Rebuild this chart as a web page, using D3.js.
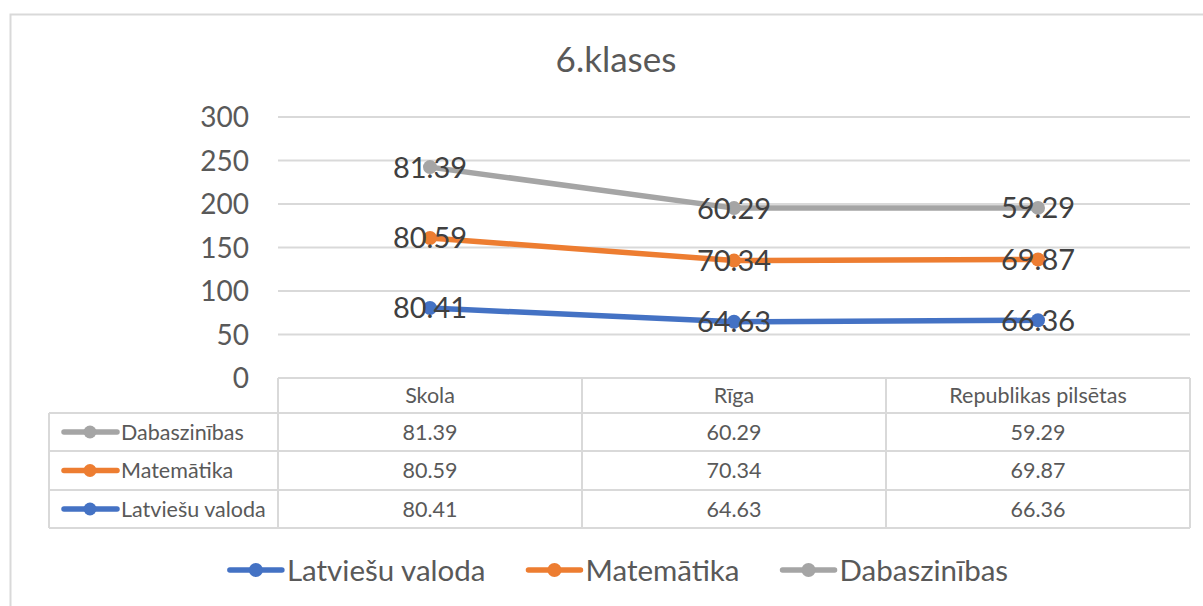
<!DOCTYPE html>
<html>
<head>
<meta charset="utf-8">
<script src="https://cdn.jsdelivr.net/npm/d3@7"></script>
<style>
  body { margin: 0; background: #fff; }
  text { font-family: Lato, "Open Sans", sans-serif; }
</style>
</head>
<body>
<div id="root"></div>
<script>
// categories and series (values as shown in the data table)
let categories = ["Skola", "Rīga", "Republikas pilsētas"];
let seriesNames = ["Latviešu valoda", "Matemātika", "Dabaszinības"];
let latviesu = [80.41, 64.63, 66.36];
let matematika = [80.59, 70.34, 69.87];
let dabaszinibas = [81.39, 60.29, 59.29];
let yTicks = [0, 50, 100, 150, 200, 250, 300];
let colors = ["#4472C4", "#ED7D31", "#A5A5A5"];

let W = 1203, H = 606;
let plot = { left: 278, right: 1190, top: 117, bottom: 378 };

let svg = d3.select("#root").append("svg")
  .attr("width", W).attr("height", H);

// chart border (runs off the right and bottom edge)
svg.append("rect")
  .attr("x", 10.5).attr("y", 14.5)
  .attr("width", W + 20).attr("height", H + 20)
  .attr("fill", "none").attr("stroke", "#d9d9d9").attr("stroke-width", 2);

// title
svg.append("text")
  .attr("x", 616).attr("y", 72)
  .attr("text-anchor", "middle")
  .attr("font-size", 35).attr("fill", "#595959")
  .text("6.klases");

// build rows for stacking
let rows = categories.map((c, i) => ({
  cat: c,
  "Latviešu valoda": latviesu[i],
  "Matemātika": matematika[i],
  "Dabaszinības": dabaszinibas[i]
}));
let stacked = d3.stack().keys(seriesNames)(rows);

// scales
let x = d3.scaleBand().domain(categories).range([plot.left, plot.right]);
let y = d3.scaleLinear().domain([0, 300]).range([plot.bottom, plot.top]);
let cx = (c) => x(c) + x.bandwidth() / 2;

// gridlines
svg.append("g").selectAll("line")
  .data(yTicks.filter((t) => t > 0))
  .join("line")
  .attr("x1", plot.left).attr("x2", plot.right)
  .attr("y1", (d) => y(d)).attr("y2", (d) => y(d))
  .attr("stroke", "#d9d9d9").attr("stroke-width", 2);

// y axis labels
let yAxis = svg.append("g")
  .attr("transform", "translate(" + (plot.left - 29) + ",0)")
  .call(d3.axisLeft(y).tickValues(yTicks).tickSize(0).tickPadding(0));
yAxis.select(".domain").remove();
yAxis.selectAll("text")
  .attr("font-size", 28).attr("fill", "#595959")
  .attr("font-family", "Lato, sans-serif")
  .attr("dy", "0.34em");

// lines
let line = d3.line()
  .x((d) => cx(d.data.cat))
  .y((d) => y(d[1]));

let seriesG = svg.append("g").selectAll("g")
  .data(stacked)
  .join("g");

seriesG.append("path")
  .attr("d", (s) => line(s))
  .attr("fill", "none")
  .attr("stroke", (s, i) => colors[i])
  .attr("stroke-width", 5.5)
  .attr("stroke-linejoin", "round")
  .attr("stroke-linecap", "round");

seriesG.selectAll("circle")
  .data((s, i) => s.map((p) => ({ p: p, i: i })))
  .join("circle")
  .attr("cx", (d) => cx(d.p.data.cat))
  .attr("cy", (d) => y(d.p[1]))
  .attr("r", 7)
  .attr("fill", (d) => colors[d.i]);

// data labels (centered on the points)
seriesG.selectAll("text")
  .data((s) => s.map((p) => ({ p: p, key: s.key })))
  .join("text")
  .attr("x", (d) => cx(d.p.data.cat))
  .attr("y", (d) => y(d.p[1]))
  .attr("dy", "0.36em")
  .attr("text-anchor", "middle")
  .attr("font-size", 29).attr("fill", "#404040")
  .text((d) => d.p.data[d.key].toFixed(2));

// data table
let rowH = [plot.bottom, 413, 451, 490, 528];
let tableLeft = 49;
let tbl = svg.append("g");
let gridColor = "#d9d9d9";
let tblFont = 21.5;

// horizontal table lines
tbl.append("line")
  .attr("x1", plot.left).attr("x2", plot.right)
  .attr("y1", rowH[0]).attr("y2", rowH[0])
  .attr("stroke", gridColor).attr("stroke-width", 2);
rowH.slice(1).forEach((yy) => {
  tbl.append("line")
    .attr("x1", tableLeft).attr("x2", plot.right)
    .attr("y1", yy).attr("y2", yy)
    .attr("stroke", gridColor).attr("stroke-width", 2);
});
// vertical table lines
tbl.append("line")
  .attr("x1", tableLeft).attr("x2", tableLeft)
  .attr("y1", rowH[1]).attr("y2", rowH[4])
  .attr("stroke", gridColor).attr("stroke-width", 2);
categories.forEach((c) => {
  tbl.append("line")
    .attr("x1", x(c)).attr("x2", x(c))
    .attr("y1", rowH[0]).attr("y2", rowH[4])
    .attr("stroke", gridColor).attr("stroke-width", 2);
});
tbl.append("line")
  .attr("x1", plot.right).attr("x2", plot.right)
  .attr("y1", rowH[0]).attr("y2", rowH[4])
  .attr("stroke", gridColor).attr("stroke-width", 2);

// header
tbl.selectAll(".hdr")
  .data(categories)
  .join("text")
  .attr("class", "hdr")
  .attr("x", (c) => cx(c))
  .attr("y", (rowH[0] + rowH[1]) / 2)
  .attr("dy", "0.36em")
  .attr("text-anchor", "middle")
  .attr("font-size", tblFont).attr("fill", "#595959")
  .text((c) => c);

// table rows (top to bottom: Dabaszinības, Matemātika, Latviešu valoda)
let tableSeries = [
  { name: "Dabaszinības", vals: dabaszinibas, color: colors[2] },
  { name: "Matemātika", vals: matematika, color: colors[1] },
  { name: "Latviešu valoda", vals: latviesu, color: colors[0] }
];
tableSeries.forEach((s, r) => {
  let cy = (rowH[r + 1] + rowH[r + 2]) / 2;
  tbl.append("line")
    .attr("x1", 64).attr("x2", 117)
    .attr("y1", cy).attr("y2", cy)
    .attr("stroke", s.color).attr("stroke-width", 5.5)
    .attr("stroke-linecap", "round");
  tbl.append("circle")
    .attr("cx", 90).attr("cy", cy).attr("r", 6.5)
    .attr("fill", s.color);
  tbl.append("text")
    .attr("x", 121).attr("y", cy).attr("dy", "0.36em")
    .attr("font-size", tblFont).attr("fill", "#595959")
    .text(s.name);
  categories.forEach((c, i) => {
    tbl.append("text")
      .attr("x", cx(c)).attr("y", cy).attr("dy", "0.36em")
      .attr("text-anchor", "middle")
      .attr("font-size", tblFont).attr("fill", "#595959")
      .text(s.vals[i].toFixed(2));
  });
});

// bottom legend
let legend = svg.append("g").attr("transform", "translate(0,570)");
let items = legend.selectAll("g")
  .data(seriesNames)
  .join("g");
items.append("line")
  .attr("x1", 2).attr("x2", 54)
  .attr("stroke", (d, i) => colors[i]).attr("stroke-width", 5.5)
  .attr("stroke-linecap", "round");
items.append("circle")
  .attr("cx", 28).attr("r", 7)
  .attr("fill", (d, i) => colors[i]);
items.append("text")
  .attr("x", 59).attr("dy", "0.36em")
  .attr("font-size", 29.5).attr("fill", "#595959")
  .text((d) => d);

// place legend items side by side, centered
let offs = [], total = 0;
items.each(function (d, i) {
  let w = 59 + this.querySelector("text").getComputedTextLength();
  offs.push(total);
  total += w + (i < seriesNames.length - 1 ? 41 : 0);
});
let start = 618 - total / 2;
items.attr("transform", (d, i) => "translate(" + (start + offs[i]) + ",0)");
</script>
</body>
</html>
